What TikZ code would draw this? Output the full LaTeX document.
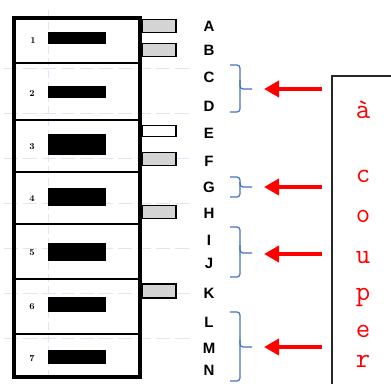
\documentclass[tikz,border=0pt]{standalone}
\usepackage{fontspec}
\newfontfamily\lettersfont{Liberation Sans}
\usetikzlibrary{arrows.meta}
\definecolor{bracketblue}{RGB}{68,114,196}
\definecolor{gridblue}{RGB}{222,229,243}
\definecolor{tabgray}{RGB}{212,212,212}
\tikzset{
  bar/.style={fill=black,draw=none},
  tab/.style={draw=black,line width=1.6pt,fill=tabgray},
  letter/.style={font=\lettersfont\bfseries\fontsize{15}{15}\selectfont,anchor=base,inner sep=0pt},
  num/.style={font=\bfseries\fontsize{9}{9}\selectfont,inner sep=0pt},
  brace/.style={draw=bracketblue,line width=1.2pt,rounded corners=3pt},
  cut/.style={draw=red,line width=4pt,-{Triangle[length=15pt,width=16pt]}},
  redletter/.style={font=\ttfamily\fontsize{28}{28}\selectfont,text=red,anchor=base,inner sep=0pt}
}
\begin{document}
\begin{tikzpicture} [x=1pt,y=-1pt]
\useasboundingbox (0,0) rectangle (391,383);
%grid
        \foreach \y in {68,113,158,203,248,293,338}
          \draw [ color = gridblue, line width=1pt, dash pattern=on 14pt off 5pt ] (4,\y) -- (190,\y);
        \draw [ color = gridblue, line width=1pt, dash pattern=on 8pt off 4pt ] (48,10) -- (48,375);

%tabs
        \node[tab,minimum width=34pt,minimum height=13pt] (tA) at (159,26) {};
        \node[tab,minimum width=34pt,minimum height=13pt] (tB) at (159,50) {};
        \node[tab,minimum width=34pt,minimum height=11pt,fill=white] (tE) at (159,131) {};
        \node[tab,minimum width=34pt,minimum height=13pt] (tF) at (159,159) {};
        \node[tab,minimum width=34pt,minimum height=13pt] (tH) at (159,212) {};
        \node[tab,minimum width=34pt,minimum height=14pt] (tK) at (159,291) {};

%frame
        \draw [ line width=4pt ] (14,18) rectangle (140,377);
        \foreach \y in {63,120,172,224,279,334}
          \draw [ line width=2.8pt ] (14,\y) -- (140,\y);

%bars
        \fill [bar] (48,32) rectangle (106,44);
        \fill [bar] (48,86) rectangle (106,98);
        \fill [bar] (48,134) rectangle (106,155);
        \fill [bar] (48,188) rectangle (106,206);
        \fill [bar] (48,243) rectangle (106,261);
        \fill [bar] (48,297) rectangle (106,312);
        \fill [bar] (48,350) rectangle (106,364);

        \node[num] (n1) at (33,41) {1};
        \node[num] (n2) at (32,94) {2};
        \node[num] (n3) at (32,147) {3};
        \node[num] (n4) at (32,199) {4};
        \node[num] (n5) at (32,253) {5};
        \node[num] (n6) at (32,307) {6};
        \node[num] (n7) at (32,359) {7};

%letters
        \node[letter] (lA) at (209,31) {A};
        \node[letter] (lB) at (209,55) {B};
        \node[letter] (lC) at (209,82) {C};
        \node[letter] (lD) at (209,111) {D};
        \node[letter] (lE) at (209,138) {E};
        \node[letter] (lF) at (209,166) {F};
        \node[letter] (lG) at (209,192) {G};
        \node[letter] (lH) at (209,218) {H};
        \node[letter] (lI) at (209,245) {I};
        \node[letter] (lJ) at (209,268) {J};
        \node[letter] (lK) at (209,298) {K};
        \node[letter] (lL) at (209,327) {L};
        \node[letter] (lM) at (209,353) {M};
        \node[letter] (lN) at (209,375) {N};

%brackets
        \coordinate (b1) at (252,89);
        \coordinate (b2) at (252,187);
        \coordinate (b3) at (252,253);
        \coordinate (b4) at (252,347);
        \draw [brace] (230,65) -- (240,65) -- (240,89) -- (b1);
        \draw [brace] (240,80) -- (240,112) -- (230,112);
        \draw [brace] (230,177) -- (240,177) -- (240,187) -- (b2);
        \draw [brace] (240,182) -- (240,197) -- (230,197);
        \draw [brace] (230,227) -- (240,227) -- (240,253) -- (b3);
        \draw [brace] (240,245) -- (240,277) -- (230,277);
        \draw [brace] (230,312) -- (240,312) -- (240,347) -- (b4);
        \draw [brace] (240,340) -- (240,381) -- (230,381);

%arrows
        \coordinate (s1) at (322,89);
        \coordinate (s2) at (322,187);
        \coordinate (s3) at (322,254);
        \coordinate (s4) at (322,347);
        \coordinate (e1) at (264,89);
        \coordinate (e2) at (264,187);
        \coordinate (e3) at (264,254);
        \coordinate (e4) at (264,347);
        \draw [cut] (s1) -- (e1);
        \draw [cut] (s2) -- (e2);
        \draw [cut] (s3) -- (e3);
        \draw [cut] (s4) -- (e4);

%note
        \draw [ line width=1.3pt, color=black!85 ] (332,76) rectangle (400,400);
        \node[redletter] (r1) at (363,118) {à};
        \node[redletter] (r2) at (363,182) {c};
        \node[redletter] (r3) at (363,222) {o};
        \node[redletter] (r4) at (363,263) {u};
        \node[redletter] (r5) at (363,300) {p};
        \node[redletter] (r6) at (363,337) {e};
        \node[redletter] (r7) at (363,367) {r};
\end{tikzpicture}
\end{document}
